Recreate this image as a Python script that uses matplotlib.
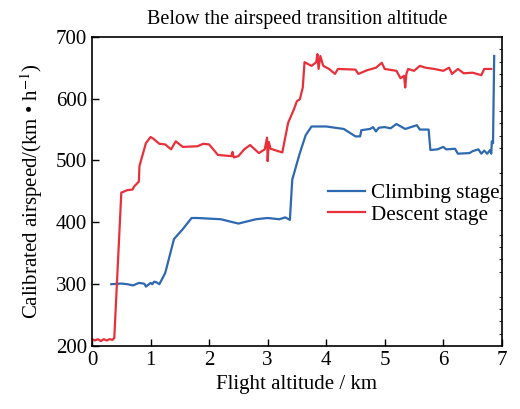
import matplotlib.pyplot as plt
from matplotlib.ticker import MultipleLocator

plt.rcParams['font.family'] = ['Liberation Serif', 'DejaVu Serif']
plt.rcParams['mathtext.fontset'] = 'stix'

# climbing stage: altitude (km) vs calibrated airspeed (km/h)
climb_alt = [0.33, 0.5, 0.6, 0.7, 0.8, 0.88, 0.9, 0.92, 0.96, 1.0, 1.03, 1.06, 1.1, 1.15,
             1.25, 1.4, 1.55, 1.7, 1.8, 2.0, 2.2, 2.5, 2.8, 3.0, 3.2, 3.3, 3.38,
             3.42, 3.55, 3.65, 3.75, 4.0, 4.3, 4.5, 4.58, 4.6, 4.75, 4.8, 4.85, 4.9,
             5.0, 5.1, 5.2, 5.35, 5.45, 5.55, 5.6, 5.75, 5.78, 5.9, 6.0, 6.05, 6.2,
             6.25, 6.45, 6.5, 6.6, 6.65, 6.7, 6.75, 6.8, 6.82, 6.83, 6.85, 6.87]
climb_speed = [300, 301, 300, 298, 302, 301, 300, 296, 299, 302, 300, 304, 303, 300,
               318, 373, 389, 407, 407, 406, 405, 398, 405, 407, 405, 408, 404,
               469, 512, 541, 555, 555, 551, 539, 539, 549, 551, 554, 547, 553,
               554, 552, 559, 551, 554, 557, 550, 550, 517, 518, 522, 518, 519,
               511, 512, 515, 518, 511, 516, 511, 517, 511, 531, 528, 669]

# descent stage
desc_alt = [0.0, 0.05, 0.1, 0.15, 0.2, 0.25, 0.3, 0.35, 0.38, 0.5, 0.6, 0.69, 0.72, 0.8,
            0.81, 0.92, 1.0, 1.05, 1.15, 1.25, 1.35, 1.43, 1.55, 1.8, 1.9, 2.0,
            2.15, 2.38, 2.4, 2.42, 2.5, 2.6, 2.7, 2.85, 2.95, 2.99, 3.0, 3.02, 3.05,
            3.25, 3.35, 3.45, 3.5, 3.55, 3.6, 3.63, 3.75, 3.83, 3.85, 3.87, 3.9,
            3.95, 4.05, 4.15, 4.2, 4.5, 4.55, 4.7, 4.85, 4.95, 5.0, 5.2, 5.27,
            5.33, 5.35, 5.37, 5.4, 5.5, 5.6, 5.7, 5.85, 6.0, 6.1, 6.15, 6.25,
            6.35, 6.5, 6.65, 6.7, 6.8, 6.82]
desc_speed = [211, 209, 211, 208, 211, 209, 211, 210, 213, 448, 452, 453, 458, 466,
              491, 528, 538, 535, 527, 526, 518, 531, 522, 523, 527, 526,
              509, 507, 514, 505, 507, 518, 525, 512, 518, 537, 499, 530, 519,
              513, 561, 583, 596, 599, 618, 659, 653, 659, 672, 648, 669,
              653, 648, 640, 648, 647, 640, 646, 650, 658, 648, 645, 633,
              637, 618, 640, 648, 645, 653, 650, 648, 645, 650, 640, 648,
              641, 642, 638, 648, 648, 648]

fig = plt.figure(figsize=(5.2, 4.09), dpi=100)
ax = fig.add_axes([0.177, 0.154, 0.788, 0.756])

ax.plot(climb_alt, climb_speed, color='#2d68b0', lw=1.6, label='Climbing stage')
ax.plot(desc_alt, desc_speed, color='#e8303a', lw=1.6, label='Descent stage')

ax.set_xlim(0, 7)
ax.set_ylim(200, 700)
ax.xaxis.set_major_locator(MultipleLocator(1))
ax.yaxis.set_major_locator(MultipleLocator(100))
ax.xaxis.set_minor_locator(MultipleLocator(0.2))
ax.yaxis.set_minor_locator(MultipleLocator(20))
ax.tick_params(which='both', direction='in', top=False, right=True, labelsize=15)
ax.tick_params(which='major', length=5, width=1)
ax.tick_params(which='minor', length=2, width=0.6)
ax.tick_params(axis='x', which='minor', bottom=False)
ax.tick_params(axis='y', which='minor', left=False)
ax.tick_params(axis='y', which='major', right=False)
for s in ax.spines.values():
    s.set_linewidth(1.2)

ax.set_title('Below the airspeed transition altitude', fontsize=14.5, pad=9)
ax.set_xlabel('Flight altitude / km', fontsize=15)
ax.set_ylabel('Calibrated airspeed/(km • h$^{-1}$)', fontsize=15, labelpad=8)

ax.legend(loc='upper left', bbox_to_anchor=(0.53, 0.587), frameon=False, fontsize=15.2,
          handlelength=1.75, handletextpad=0.3, labelspacing=0.08)

fig.savefig('out.png', dpi=100)
